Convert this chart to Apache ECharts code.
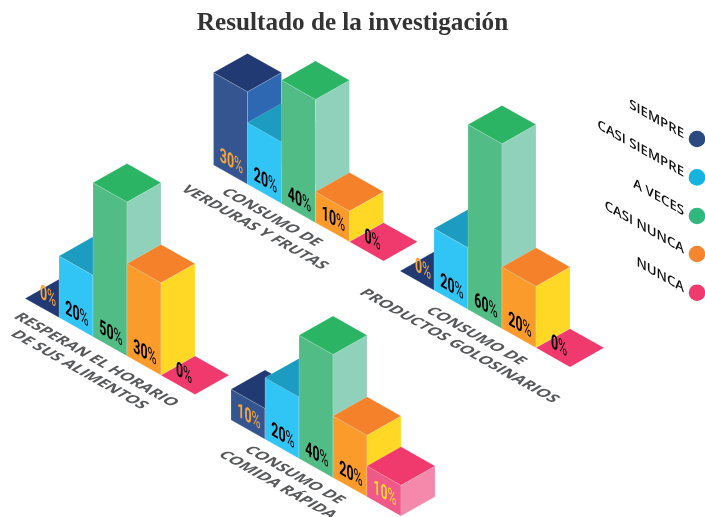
<!DOCTYPE html>
<html><head><meta charset="utf-8">
<style>html,body{margin:0;padding:0;background:#fff}#c{width:705px;height:517px}</style>
<script src="https://cdn.jsdelivr.net/npm/echarts@6/dist/echarts.min.js"></script>
</head><body><div id="c"></div>
<script>
const levels = ['SIEMPRE','CASI SIEMPRE','A VECES','CASI NUNCA','NUNCA'];
const verduras = [30,20,40,10,0];
const golosinas = [0,20,60,20,0];
const horario = [0,20,50,30,0];
const comidaRapida = [10,20,40,20,10];
const groupTitles = [
  ['CONSUMO DE','VERDURAS Y FRUTAS'],
  ['CONSUMO DE','PRODUCTOS GOLOSINARIOS'],
  ['RESPERAN EL HORARIO','DE SUS ALIMENTOS'],
  ['CONSUMO DE','COMIDA RÁPIDA']
];
const groupValues = [verduras, golosinas, horario, comidaRapida];

// layout and style, separate from the data
const PX = 3.08, BAND = 34, SLOPE = 0.565;
const layout = [
  {x:213.5, y:165,   max:40, label:[58,52.5]},
  {x:400,   y:271,   max:60, label:[76,65]},
  {x:25,    y:298.4, max:60, label:[71,61.5]},
  {x:231,   y:420,   max:60, label:[63.5,55]}
];
const faces = [
  {left:'#34558f', right:'#2f68b2', top:'#213a73', text:'#f9a63a'},
  {left:'#31c5f6', right:'#1f9fc6', top:'#1b9cc0', text:'#000'},
  {left:'#52bc86', right:'#90d1bc', top:'#2ab464', text:'#000'},
  {left:'#fb9b2c', right:'#fed824', top:'#f5812a', text:'#000'},
  {left:'#f0588a', right:'#f589ac', top:'#f0396d', text:'#000'}
];
const legendColors = ['#2a4a80','#14b4df','#2fb77e','#f6852f','#ef3a70'];

function affine(x, y, a, b, c, d, child) {
  const E=(a+d)/2, F=(a-d)/2, G=(b+c)/2, H=(b-c)/2;
  const Q=Math.hypot(E,H), R=Math.hypot(F,G);
  const a1=Math.atan2(G,F), a2=Math.atan2(H,E);
  const theta=(a2-a1)/2, phi=(a2+a1)/2;
  return {type:'group', x, y, rotation:-phi, scaleX:Q+R, scaleY:Q-R, silent:true,
    children:[{type:'group', rotation:-theta, children:[child]}]};
}
function poly(points, fill) {
  return {type:'polygon', shape:{points}, silent:true,
    style:{fill, stroke:'rgba(255,255,255,0.28)', lineWidth:0.6, lineJoin:'round'}};
}
function renderBar(g) {
  return function (params, api) {
    const i = api.value(0), v = api.value(1);
    const band = api.size([1,0])[0], dy = band*SLOPE;
    const cTop = api.coord([i, v]), cBase = api.coord([i, 0]);
    const x = cTop[0]-band/2, off = i*dy;
    const yb = cBase[1]+off, yt = cTop[1]+off;
    const f = faces[i];
    const kids = [];
    if (v > 0) {
      kids.push(poly([[x,yt],[x+band,yt+dy],[x+band,yb+dy],[x,yb]], f.left));
      kids.push(poly([[x+band,yt+dy],[x+2*band,yt],[x+2*band,yb],[x+band,yb+dy]], f.right));
    }
    kids.push(poly([[x,yt],[x+band,yt+dy],[x+2*band,yt],[x+band,yt-dy]], f.top));
    const col = (i===4 && v>0) ? '#ffd92b' : f.text;
    const lx = v>0 ? x+18 : x+23, ly = v>0 ? yb-2.5 : yb-1;
    kids.push(affine(lx, ly, .62, .62*SLOPE*1.0, 0, 1, {type:'text', silent:true,
      style:{text:'{a|'+v+'}{b|%}', x:0, y:0, align:'center', verticalAlign:'middle',
        rich:{a:{fontFamily:'Roboto', fontWeight:'bold', fontSize:20, fill:col, color:col},
              b:{fontFamily:'Roboto', fontWeight:'normal', fontSize:20, fill:col, color:col}}}}));
    if (i === 0) {
      const L = layout[g], ox = cBase[0]-band/2, oy = cBase[1];
      const s = 1, ax=.866*s, ay=.866*SLOPE*s/1, ux=-.866*s*.95, uy=.5*s*.95;
      groupTitles[g].forEach((t,k) => {
        kids.push(affine(ox+L.label[0]-17*k, oy+L.label[1]+10*k, ax, ay, ux, uy, {type:'text', silent:true,
          style:{text:t, x:0, y:0, align:'center', verticalAlign:'middle',
            fontFamily:'Open Sans', fontWeight:'bold', fontSize:16, fill:'#58595b'}}));
      });
    }
    return {type:'group', children:kids};
  };
}
const grids=[], xAxes=[], yAxes=[], series=[];
groupValues.forEach((vals,g)=>{
  const L=layout[g];
  grids.push({left:L.x, top:L.y-L.max*PX, width:BAND*5, height:L.max*PX, show:false, containLabel:false});
  xAxes.push({type:'category', gridIndex:g, data:levels, show:false});
  yAxes.push({type:'value', gridIndex:g, min:0, max:L.max, show:false});
  series.push({type:'custom', name:groupTitles[g].join(' '), xAxisIndex:g, yAxisIndex:g, clip:false,
    renderItem:renderBar(g), encode:{x:0,y:1},
    data:vals.map((v,i)=>[levels[i],v])});
});
const legendY=[139,177.4,216,254,292.7];
const graphicEls=[];
levels.forEach((t,i)=>{
  graphicEls.push({type:'circle', shape:{cx:697,cy:legendY[i],r:8.3}, style:{fill:legendColors[i]}, silent:true});
  graphicEls.push(affine(684, legendY[i]+2.5, 1, SLOPE, 0, 1, {type:'text', silent:true,
    style:{text:t, x:0, y:0, align:'right', verticalAlign:'bottom',
      fontFamily:'Open Sans', fontWeight:600, fontSize:13.2, fill:'#111'}}));
});
const chart=echarts.init(document.getElementById('c'),null,{renderer:'canvas'});
chart.setOption({
  animation:false, backgroundColor:'#fff',
  title:{text:'Resultado de la investigación', left:'center', top:6, textAlign:'left',
    textStyle:{fontFamily:'Liberation Serif', fontWeight:'bold', fontSize:25.2, color:'#333'}},
  grid:grids, xAxis:xAxes, yAxis:yAxes, series, graphic:{elements:graphicEls}
});
</script></body></html>
